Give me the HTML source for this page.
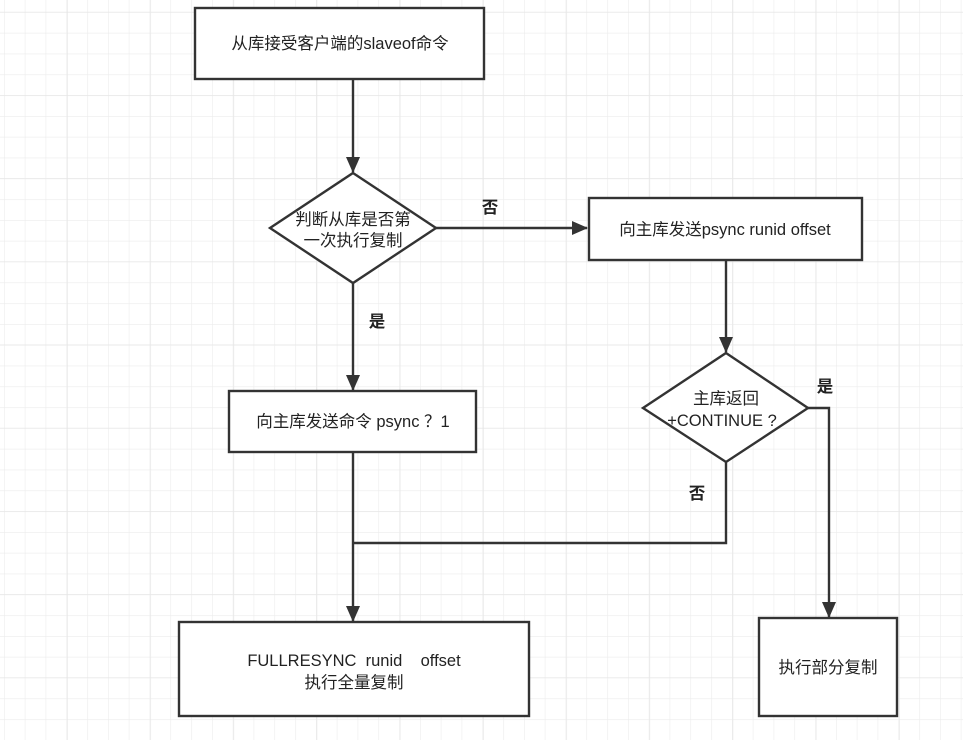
<!DOCTYPE html>
<html><head><meta charset="utf-8"><style>
html,body{margin:0;padding:0;background:#fff}
svg{display:block}
text{font-family:"Liberation Sans","Noto Sans CJK SC",sans-serif;fill:#222}
</style></head><body>
<svg width="963" height="740" viewBox="0 0 963 740" xmlns="http://www.w3.org/2000/svg">
<defs>
<pattern id="g" x="4" y="12" width="20.8" height="20.8" patternUnits="userSpaceOnUse">
<path d="M0 0H20.8M0 0V20.8" stroke="#ececec" stroke-width="1.2" fill="none"/>
</pattern>
<pattern id="G" x="67" y="95" width="83.2" height="83.2" patternUnits="userSpaceOnUse">
<path d="M0 0H83.2M0 0V83.2" stroke="#e6e6e6" stroke-width="1.3" fill="none"/>
</pattern>
<marker id="a" markerWidth="16" markerHeight="14" refX="15" refY="7" orient="auto" markerUnits="userSpaceOnUse">
<path d="M0 0L16 7L0 14Z" fill="#333"/>
</marker>
</defs>
<rect width="963" height="740" fill="#fff"/>
<rect x="0" y="0" width="963" height="740" fill="url(#g)"/>
<rect x="0" y="0" width="963" height="740" fill="url(#G)"/>
<g stroke="#333" stroke-width="2.4" fill="none">
<path d="M353 79V172" marker-end="url(#a)"/>
<path d="M436 228H587" marker-end="url(#a)"/>
<path d="M353 283V390" marker-end="url(#a)"/>
<path d="M353 452V621" marker-end="url(#a)"/>
<path d="M726 462V543H353"/>
<path d="M808 408H829V617" marker-end="url(#a)"/>
<path d="M726 260V352" marker-end="url(#a)"/>
</g>
<g stroke="#333" stroke-width="2.4" fill="#fff">
<rect x="195" y="8" width="289" height="71"/>
<polygon points="353,173 436,228 353,283 270,228"/>
<rect x="589" y="198" width="273" height="62"/>
<polygon points="726,353 808,408 726,462 643,408"/>
<rect x="229" y="391" width="247" height="61"/>
<rect x="179" y="622" width="350" height="94"/>
<rect x="759" y="618" width="138" height="98"/>
</g>
<g font-size="16.5" text-anchor="middle">
<text x="340" y="49">从库接受客户端的slaveof命令</text>
<text x="353" y="225">判断从库是否第</text>
<text x="353" y="246">一次执行复制</text>
<text x="725" y="235">向主库发送psync runid offset</text>
<text x="353" y="427">向主库发送命令 psync ？1</text>
<text x="726" y="404">主库返回</text>
<text x="722" y="426">+CONTINUE ?</text>
<text x="354" y="666" xml:space="preserve">FULLRESYNC  runid    offset</text>
<text x="354" y="688">执行全量复制</text>
<text x="828" y="673">执行部分复制</text>
<g font-weight="bold">
<text x="490" y="213">否</text>
<text x="377" y="327">是</text>
<text x="825" y="392">是</text>
<text x="697" y="499">否</text>
</g>
</g>
</svg>
</body></html>
